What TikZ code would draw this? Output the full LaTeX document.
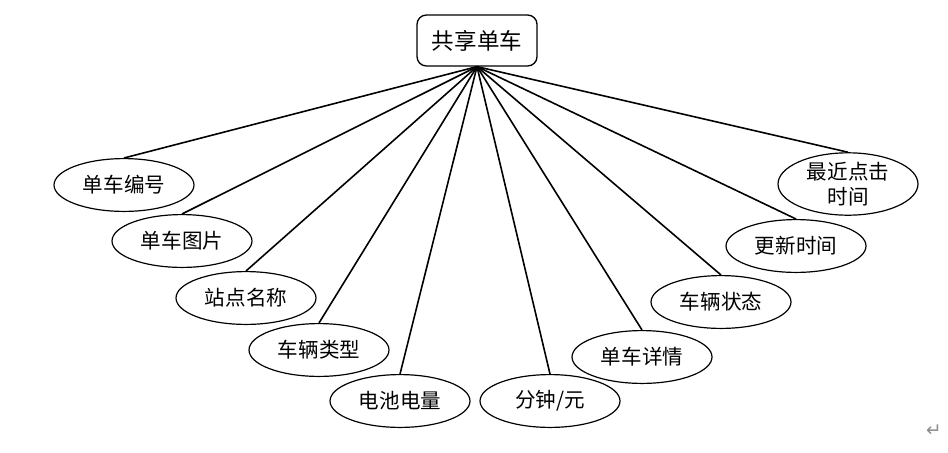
\documentclass[tikz,border=0pt]{standalone}
\usepackage{fontspec}
\setmainfont{Noto Sans CJK SC}
\newfontfamily\symfont{DejaVu Sans}
\usetikzlibrary{shapes.geometric}
\definecolor{LineBlack}{HTML}{000000}
\definecolor{MarkGray}{HTML}{8C8C8C}

\begin{document}
\begin{tikzpicture}[
  x=0.0265cm, y=-0.0265cm,
  entity/.style={draw=LineBlack, line width=1pt, rounded corners=7pt, fill=white, minimum width=3.18cm, minimum height=1.35cm, inner sep=0pt, font=\fontsize{17}{20}\selectfont},
  attr/.style={draw=LineBlack, line width=0.9pt, ellipse, fill=white, minimum width=3.71cm, minimum height=1.40cm, inner sep=0pt, align=center, font=\fontsize{15.5}{19}\selectfont},
  link/.style={line width=1.2pt, LineBlack}
]
\useasboundingbox (0,0) rectangle (948,452);
\node[entity] (bike) at (477,40.5) {共享单车};
\node[attr] (num) at (124,185) {单车编号};
\node[attr] (pic) at (182,241) {单车图片};
\node[attr] (station) at (246,298) {站点名称};
\node[attr] (type) at (319,350) {车辆类型};
\node[attr] (battery) at (400,401) {电池电量};
\node[attr] (price) at (550,401) {分钟/元};
\node[attr] (detail) at (642,357) {单车详情};
\node[attr] (state) at (721,302) {车辆状态};
\node[attr] (update) at (796,246) {更新时间};
\node[attr] (click) at (848,184) {最近点击\\时间};
\node[text=MarkGray, font=\symfont\fontsize{14}{15}\selectfont] (mark) at (934,431) {↵};
\draw[link] (bike.south) -- (num.north);
\draw[link] (bike.south) -- (pic.north);
\draw[link] (bike.south) -- (station.north);
\draw[link] (bike.south) -- (type.north);
\draw[link] (bike.south) -- (battery.north);
\draw[link] (bike.south) -- (price.north);
\draw[link] (bike.south) -- (detail.north);
\draw[link] (bike.south) -- (state.north);
\draw[link] (bike.south) -- (update.north);
\draw[link] (bike.south) -- (click.north);
\end{tikzpicture}
\end{document}
